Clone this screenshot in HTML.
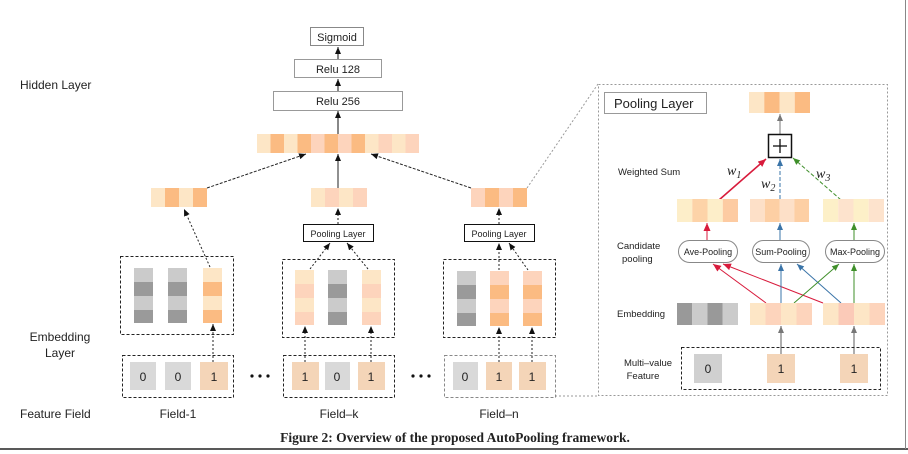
<!DOCTYPE html>
<html><head><meta charset="utf-8"><style>
html,body{margin:0;padding:0;background:#fff;}
svg{display:block;}
text{font-family:"Liberation Sans",sans-serif;fill:#222;}
</style></head><body>
<svg width="908" height="454" viewBox="0 0 908 454" xmlns="http://www.w3.org/2000/svg">
<defs>
<marker id="ak" markerWidth="8" markerHeight="8" refX="7" refY="4" orient="auto" markerUnits="userSpaceOnUse"><path d="M0,1 L7,4 L0,7 Z" fill="#111"/></marker>
<marker id="ag" markerWidth="8" markerHeight="8" refX="7" refY="4" orient="auto" markerUnits="userSpaceOnUse"><path d="M0,1 L7,4 L0,7 Z" fill="#777"/></marker>
<marker id="ar" markerWidth="9" markerHeight="9" refX="8" refY="4.5" orient="auto" markerUnits="userSpaceOnUse"><path d="M0,1 L8,4.5 L0,8 Z" fill="#d81b3c"/></marker>
<marker id="ab" markerWidth="8" markerHeight="8" refX="7" refY="4" orient="auto" markerUnits="userSpaceOnUse"><path d="M0,1 L7,4 L0,7 Z" fill="#3a74a8"/></marker>
<marker id="agr" markerWidth="8" markerHeight="8" refX="7" refY="4" orient="auto" markerUnits="userSpaceOnUse"><path d="M0,1 L7,4 L0,7 Z" fill="#3f8f2a"/></marker>
</defs>

<!-- left labels -->
<text x="20" y="89" font-size="12">Hidden Layer</text>
<text x="60" y="341" font-size="12" text-anchor="middle">Embedding</text>
<text x="60" y="357" font-size="12" text-anchor="middle">Layer</text>
<text x="20" y="418" font-size="12">Feature Field</text>
<text x="178" y="418" font-size="12" text-anchor="middle">Field-1</text>
<text x="339" y="418" font-size="12" text-anchor="middle">Field–k</text>
<text x="499" y="418" font-size="12" text-anchor="middle">Field–n</text>

<!-- hidden layers -->
<rect x="310.5" y="27.5" width="53" height="18" fill="#fff" stroke="#888"/>
<text x="337" y="41" font-size="11" text-anchor="middle">Sigmoid</text>
<rect x="294.5" y="59.5" width="87" height="18" fill="#fff" stroke="#999"/>
<text x="338" y="73" font-size="11" text-anchor="middle">Relu 128</text>
<rect x="273.5" y="91.5" width="129" height="19" fill="#fff" stroke="#999"/>
<text x="338" y="105" font-size="11" text-anchor="middle">Relu 256</text>
<line x1="338" y1="59" x2="338" y2="47" stroke="#111" marker-end="url(#ak)"/>
<line x1="338" y1="91" x2="338" y2="79" stroke="#111" marker-end="url(#ak)"/>
<line x1="338" y1="134" x2="338" y2="111" stroke="#111" marker-end="url(#ak)"/>

<!-- concat bar -->
<g>
<rect x="257" y="134" width="13.5" height="19" fill="#fde6c6"/>
<rect x="270.5" y="134" width="13.5" height="19" fill="#fbbb82"/>
<rect x="284" y="134" width="13.5" height="19" fill="#fde6c6"/>
<rect x="297.5" y="134" width="13.5" height="19" fill="#fbbb82"/>
<rect x="311" y="134" width="13.5" height="19" fill="#fdd4bc"/>
<rect x="324.5" y="134" width="13.5" height="19" fill="#fbbb82"/>
<rect x="338" y="134" width="13.5" height="19" fill="#fdd4bc"/>
<rect x="351.5" y="134" width="13.5" height="19" fill="#fbbb82"/>
<rect x="365" y="134" width="13.5" height="19" fill="#fde6c6"/>
<rect x="378.5" y="134" width="13.5" height="19" fill="#fdd4bc"/>
<rect x="392" y="134" width="13.5" height="19" fill="#fde6c6"/>
<rect x="405.5" y="134" width="13.5" height="19" fill="#fdd4bc"/>
</g>

<!-- small bars -->
<g>
<rect x="151" y="188" width="14" height="19" fill="#fde6c6"/><rect x="165" y="188" width="14" height="19" fill="#fbbb82"/><rect x="179" y="188" width="14" height="19" fill="#fde6c6"/><rect x="193" y="188" width="14" height="19" fill="#fbbb82"/>
<rect x="311" y="188" width="14" height="19" fill="#fde6c6"/><rect x="325" y="188" width="14" height="19" fill="#fdd4bc"/><rect x="339" y="188" width="14" height="19" fill="#fde6c6"/><rect x="353" y="188" width="14" height="19" fill="#fdd4bc"/>
<rect x="471" y="188" width="14" height="19" fill="#fdd4bc"/><rect x="485" y="188" width="14" height="19" fill="#fbbb82"/><rect x="499" y="188" width="14" height="19" fill="#fdd4bc"/><rect x="513" y="188" width="14" height="19" fill="#fbbb82"/>
</g>
<line x1="207" y1="188" x2="306" y2="154" stroke="#222" stroke-dasharray="3,1.5" marker-end="url(#ak)"/>
<line x1="338" y1="188" x2="338" y2="154" stroke="#222" marker-end="url(#ak)"/>
<line x1="471" y1="188" x2="371" y2="154" stroke="#222" stroke-dasharray="3,1.5" marker-end="url(#ak)"/>

<!-- zoom lines to panel -->
<line x1="527" y1="188" x2="598" y2="84" stroke="#999" stroke-dasharray="2,2"/>
<polyline points="555,396 598,396" fill="none" stroke="#999" stroke-dasharray="2,2"/>

<!-- pooling layer boxes -->
<rect x="303.5" y="224.5" width="70" height="17" fill="#fff" stroke="#111"/>
<text x="338" y="237" font-size="9" text-anchor="middle">Pooling Layer</text>
<rect x="464.5" y="224.5" width="70" height="17" fill="#fff" stroke="#111"/>
<text x="499" y="237" font-size="9" text-anchor="middle">Pooling Layer</text>
<line x1="338" y1="224" x2="338" y2="208" stroke="#222" stroke-dasharray="2,2" marker-end="url(#ak)"/>
<line x1="499" y1="224" x2="499" y2="208" stroke="#222" stroke-dasharray="2,2" marker-end="url(#ak)"/>

<!-- embedding boxes -->
<rect x="120.5" y="256.5" width="113" height="78" fill="none" stroke="#222" stroke-dasharray="3,2"/>
<rect x="282.5" y="259.5" width="112" height="78" fill="none" stroke="#222" stroke-dasharray="3,2"/>
<rect x="443.5" y="259.5" width="112" height="78" fill="none" stroke="#222" stroke-dasharray="3,2"/>

<g>
<!-- left -->
<rect x="134" y="268" width="19" height="14" fill="#cbcbcb"/><rect x="134" y="282" width="19" height="14" fill="#9a9a9a"/><rect x="134" y="296" width="19" height="14" fill="#cbcbcb"/><rect x="134" y="310" width="19" height="13" fill="#9a9a9a"/>
<rect x="168" y="268" width="19" height="14" fill="#cbcbcb"/><rect x="168" y="282" width="19" height="14" fill="#9a9a9a"/><rect x="168" y="296" width="19" height="14" fill="#cbcbcb"/><rect x="168" y="310" width="19" height="13" fill="#9a9a9a"/>
<rect x="203" y="268" width="19" height="14" fill="#fde6c6"/><rect x="203" y="282" width="19" height="14" fill="#fbbb82"/><rect x="203" y="296" width="19" height="14" fill="#fde6c6"/><rect x="203" y="310" width="19" height="13" fill="#fbbb82"/>
<!-- middle -->
<rect x="295" y="270" width="19" height="14" fill="#fde6c6"/><rect x="295" y="284" width="19" height="14" fill="#fdd4bc"/><rect x="295" y="298" width="19" height="14" fill="#fde6c6"/><rect x="295" y="312" width="19" height="13" fill="#fdd4bc"/>
<rect x="328" y="270" width="19" height="14" fill="#cbcbcb"/><rect x="328" y="284" width="19" height="14" fill="#9a9a9a"/><rect x="328" y="298" width="19" height="14" fill="#cbcbcb"/><rect x="328" y="312" width="19" height="13" fill="#9a9a9a"/>
<rect x="362" y="270" width="19" height="14" fill="#fde6c6"/><rect x="362" y="284" width="19" height="14" fill="#fdd4bc"/><rect x="362" y="298" width="19" height="14" fill="#fde6c6"/><rect x="362" y="312" width="19" height="13" fill="#fdd4bc"/>
<!-- right -->
<rect x="457" y="271" width="19" height="14" fill="#cbcbcb"/><rect x="457" y="285" width="19" height="14" fill="#9a9a9a"/><rect x="457" y="299" width="19" height="14" fill="#cbcbcb"/><rect x="457" y="313" width="19" height="13" fill="#9a9a9a"/>
<rect x="490" y="271" width="19" height="14" fill="#fdd4bc"/><rect x="490" y="285" width="19" height="14" fill="#fbbb82"/><rect x="490" y="299" width="19" height="14" fill="#fdd4bc"/><rect x="490" y="313" width="19" height="13" fill="#fbbb82"/>
<rect x="523" y="271" width="19" height="14" fill="#fdd4bc"/><rect x="523" y="285" width="19" height="14" fill="#fbbb82"/><rect x="523" y="299" width="19" height="14" fill="#fdd4bc"/><rect x="523" y="313" width="19" height="13" fill="#fbbb82"/>
</g>
<line x1="210" y1="267" x2="184" y2="209" stroke="#222" stroke-dasharray="2,2" marker-end="url(#ak)"/>
<line x1="310" y1="269" x2="330" y2="243" stroke="#222" stroke-dasharray="2,2" marker-end="url(#ak)"/>
<line x1="368" y1="269" x2="347" y2="243" stroke="#222" stroke-dasharray="2,2" marker-end="url(#ak)"/>
<line x1="499" y1="270" x2="499" y2="243" stroke="#222" stroke-dasharray="2,2" marker-end="url(#ak)"/>
<line x1="528" y1="270" x2="509" y2="243" stroke="#222" stroke-dasharray="2,2" marker-end="url(#ak)"/>

<!-- feature boxes -->
<rect x="122.5" y="355.5" width="111" height="42" fill="none" stroke="#222" stroke-dasharray="3,2"/>
<rect x="283.5" y="355.5" width="111" height="42" fill="none" stroke="#222" stroke-dasharray="3,2"/>
<rect x="444.5" y="355.5" width="111" height="42" fill="none" stroke="#888" stroke-dasharray="3,2"/>
<g font-size="12">
<rect x="130" y="362" width="26" height="28" fill="#d9d9d9"/><text x="143" y="381" text-anchor="middle">0</text>
<rect x="165" y="362" width="26" height="28" fill="#d9d9d9"/><text x="178" y="381" text-anchor="middle">0</text>
<rect x="200" y="362" width="28" height="28" fill="#f4d5b8"/><text x="214" y="381" text-anchor="middle">1</text>
<rect x="292" y="362" width="27" height="28" fill="#f4d5b8"/><text x="305" y="381" text-anchor="middle">1</text>
<rect x="325" y="362" width="25" height="28" fill="#d9d9d9"/><text x="337" y="381" text-anchor="middle">0</text>
<rect x="358" y="362" width="27" height="28" fill="#f4d5b8"/><text x="371" y="381" text-anchor="middle">1</text>
<rect x="453" y="362" width="25" height="28" fill="#d9d9d9"/><text x="465" y="381" text-anchor="middle">0</text>
<rect x="486" y="362" width="26" height="28" fill="#f4d5b8"/><text x="499" y="381" text-anchor="middle">1</text>
<rect x="519" y="362" width="27" height="28" fill="#f4d5b8"/><text x="532" y="381" text-anchor="middle">1</text>
</g>
<line x1="213" y1="362" x2="213" y2="324" stroke="#222" stroke-dasharray="2,2" marker-end="url(#ak)"/>
<line x1="305" y1="362" x2="305" y2="326" stroke="#222" stroke-dasharray="2,2" marker-end="url(#ak)"/>
<line x1="371" y1="362" x2="371" y2="326" stroke="#222" stroke-dasharray="2,2" marker-end="url(#ak)"/>
<line x1="499" y1="362" x2="499" y2="327" stroke="#222" stroke-dasharray="2,2" marker-end="url(#ak)"/>
<line x1="532" y1="362" x2="532" y2="327" stroke="#222" stroke-dasharray="2,2" marker-end="url(#ak)"/>
<g fill="#111"><circle cx="252" cy="376" r="1.6"/><circle cx="260" cy="376" r="1.6"/><circle cx="268" cy="376" r="1.6"/>
<circle cx="413" cy="376" r="1.6"/><circle cx="421" cy="376" r="1.6"/><circle cx="429" cy="376" r="1.6"/></g>

<!-- right panel -->
<rect x="598.5" y="84.5" width="289" height="311" fill="none" stroke="#999" stroke-dasharray="2,2"/>
<rect x="604.5" y="92.5" width="102" height="21" fill="#fff" stroke="#999"/>
<text x="614" y="108" font-size="13">Pooling Layer</text>

<g>
<rect x="749" y="92" width="15.25" height="21" fill="#fde6c6"/><rect x="764.25" y="92" width="15.25" height="21" fill="#fbbb82"/><rect x="779.5" y="92" width="15.25" height="21" fill="#fde6c6"/><rect x="794.75" y="92" width="15.25" height="21" fill="#fbbb82"/>
</g>
<line x1="780" y1="134" x2="780" y2="114" stroke="#777" marker-end="url(#ag)"/>
<rect x="768.5" y="134.5" width="23" height="23" fill="#fff" stroke="#111" stroke-width="1.5"/>
<line x1="773" y1="146" x2="787" y2="146" stroke="#111" stroke-width="1.3"/>
<line x1="780" y1="139" x2="780" y2="153" stroke="#111" stroke-width="1.3"/>

<text x="618" y="175" font-size="9.5">Weighted Sum</text>
<text x="727" y="175" font-size="14" font-family="Liberation Serif,serif" font-style="italic" style="font-family:'Liberation Serif',serif">w<tspan font-size="10" dy="3">1</tspan></text>
<text x="761" y="188" font-size="14" font-style="italic" style="font-family:'Liberation Serif',serif">w<tspan font-size="10" dy="3">2</tspan></text>
<text x="816" y="178" font-size="14" font-style="italic" style="font-family:'Liberation Serif',serif">w<tspan font-size="10" dy="3">3</tspan></text>

<line x1="719" y1="200" x2="766" y2="159" stroke="#d81b3c" stroke-width="1.6" marker-end="url(#ar)"/>
<line x1="780" y1="199" x2="780" y2="159" stroke="#3a74a8" stroke-dasharray="4,2" marker-end="url(#ab)"/>
<line x1="841" y1="200" x2="793" y2="158" stroke="#3f8f2a" stroke-dasharray="4,2" marker-end="url(#agr)"/>

<g>
<rect x="677" y="199" width="15.25" height="23" fill="#fdeec9"/><rect x="692.25" y="199" width="15.25" height="23" fill="#fdd3a8"/><rect x="707.5" y="199" width="15.25" height="23" fill="#fdeec9"/><rect x="722.75" y="199" width="15.25" height="23" fill="#fdcba2"/>
<rect x="750" y="199" width="14.75" height="23" fill="#fde0c8"/><rect x="764.75" y="199" width="14.75" height="23" fill="#fdcfa4"/><rect x="779.5" y="199" width="14.75" height="23" fill="#fde0c8"/><rect x="794.25" y="199" width="14.75" height="23" fill="#fdcfa4"/>
<rect x="823" y="199" width="15.25" height="23" fill="#fdf0c8"/><rect x="838.25" y="199" width="15.25" height="23" fill="#fde3cd"/><rect x="853.5" y="199" width="15.25" height="23" fill="#fdf0c8"/><rect x="868.75" y="199" width="15.25" height="23" fill="#fde3cd"/>
</g>

<text x="617" y="249" font-size="9.5">Candidate</text>
<text x="622" y="262" font-size="9.5">pooling</text>

<line x1="707" y1="240" x2="707" y2="223" stroke="#d81b3c" marker-end="url(#ar)"/>
<line x1="780" y1="240" x2="780" y2="223" stroke="#3a74a8" marker-end="url(#ab)"/>
<line x1="854" y1="240" x2="854" y2="223" stroke="#3f8f2a" marker-end="url(#agr)"/>

<rect x="678.5" y="240.5" width="59" height="22" rx="11" fill="#fff" stroke="#888"/>
<text x="708" y="255" font-size="9" text-anchor="middle">Ave-Pooling</text>
<rect x="752.5" y="240.5" width="57" height="22" rx="11" fill="#fff" stroke="#888"/>
<text x="781" y="255" font-size="9" text-anchor="middle">Sum-Pooling</text>
<rect x="825.5" y="240.5" width="59" height="22" rx="11" fill="#fff" stroke="#888"/>
<text x="855" y="255" font-size="9" text-anchor="middle">Max-Pooling</text>

<line x1="766" y1="303" x2="713" y2="264" stroke="#d81b3c" marker-end="url(#ar)"/>
<line x1="823" y1="303" x2="723" y2="264" stroke="#d81b3c" marker-end="url(#ar)"/>
<line x1="781" y1="303" x2="781" y2="264" stroke="#3a74a8" marker-end="url(#ab)"/>
<line x1="841" y1="303" x2="797" y2="264" stroke="#3a74a8" marker-end="url(#ab)"/>
<line x1="794" y1="303" x2="839" y2="264" stroke="#3f8f2a" marker-end="url(#agr)"/>
<line x1="854" y1="303" x2="854" y2="264" stroke="#3f8f2a" marker-end="url(#agr)"/>

<text x="617" y="317" font-size="9.5">Embedding</text>
<g>
<rect x="677" y="303" width="15.25" height="22" fill="#999"/><rect x="692.25" y="303" width="15.25" height="22" fill="#cbcbcb"/><rect x="707.5" y="303" width="15.25" height="22" fill="#999"/><rect x="722.75" y="303" width="15.25" height="22" fill="#cbcbcb"/>
<rect x="750" y="303" width="15.5" height="22" fill="#fde6c6"/><rect x="765.5" y="303" width="15.5" height="22" fill="#fdd4bc"/><rect x="781" y="303" width="15.5" height="22" fill="#fde6c6"/><rect x="796.5" y="303" width="15.5" height="22" fill="#fdd4bc"/>
<rect x="823" y="303" width="15.5" height="22" fill="#fde6c6"/><rect x="838.5" y="303" width="15.5" height="22" fill="#fbcab8"/><rect x="854" y="303" width="15.5" height="22" fill="#fde6c6"/><rect x="869.5" y="303" width="15.5" height="22" fill="#fdd4bc"/>
</g>
<line x1="781" y1="354" x2="781" y2="326" stroke="#777" stroke-width="1.2" marker-end="url(#ag)"/>
<line x1="854" y1="354" x2="854" y2="326" stroke="#777" stroke-width="1.2" marker-end="url(#ag)"/>

<rect x="681.5" y="347.5" width="199" height="42" fill="none" stroke="#222" stroke-dasharray="3,2"/>
<text x="648" y="366" font-size="9.5" text-anchor="middle">Multi–value</text>
<text x="643" y="379" font-size="9.5" text-anchor="middle">Feature</text>
<g font-size="12">
<rect x="694" y="354" width="28" height="29" fill="#d0d0d0"/><text x="708" y="373" text-anchor="middle">0</text>
<rect x="767" y="354" width="28" height="29" fill="#f4d5b8"/><text x="781" y="373" text-anchor="middle">1</text>
<rect x="840" y="354" width="28" height="29" fill="#f4d5b8"/><text x="854" y="373" text-anchor="middle">1</text>
</g>

<!-- caption -->
<text x="455" y="442" font-size="13.5" font-weight="bold" text-anchor="middle" style="font-family:'Liberation Serif',serif">Figure 2: Overview of the proposed AutoPooling framework.</text>
<line x1="0" y1="449" x2="908" y2="449" stroke="#222" stroke-width="1.5"/>
<line x1="905.5" y1="0" x2="905.5" y2="449" stroke="#888" stroke-width="1"/>
</svg>
</body></html>
